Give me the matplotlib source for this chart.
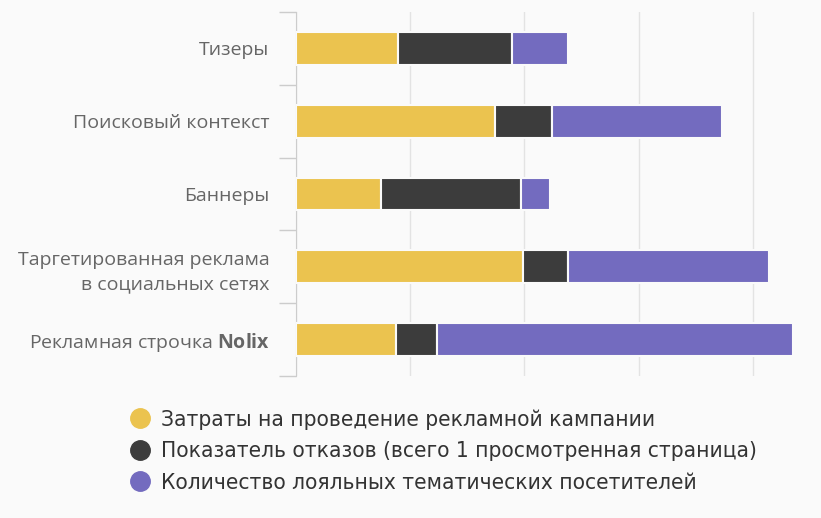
import numpy as np
import matplotlib.pyplot as plt
from matplotlib.lines import Line2D

categories = ["Тизеры", "Поисковый контекст", "Баннеры",
              "Таргетированная реклама\nв социальных сетях",
              "Рекламная строчка $\\bf{Nolix}$"]
series_names = ["Затраты на проведение рекламной кампании",
                "Показатель отказов (всего 1 просмотренная страница)",
                "Количество лояльных тематических посетителей"]
costs = [89, 174, 74, 199, 87.5]
bounces = [100, 50, 123, 39, 36]
loyal = [49, 149, 25, 176, 312]
colors = ["#ebc34f", "#3c3c3c", "#736bbf"]

plt.rcParams["mathtext.fontset"] = "custom"
plt.rcParams["mathtext.rm"] = "Open Sans"
plt.rcParams["mathtext.bf"] = "Open Sans:bold"

bg = "#fafafa"
fig = plt.figure(figsize=(8.21, 5.18), dpi=100, facecolor=bg)
ax = fig.add_axes([296 / 821, 142 / 518, 514 / 821, 364 / 518])
ax.set_facecolor(bg)

y = np.arange(len(categories))
left = np.zeros(len(categories))
for vals, c, name in zip([costs, bounces, loyal], colors, series_names):
    ax.barh(y, vals, left=left, height=0.45, color=c, edgecolor=bg,
            linewidth=1.5, label=name, zorder=3)
    left += np.array(vals)

ax.set_xlim(0, 450)
ax.set_ylim(4.5, -0.5)
ax.set_xticks([0, 100, 200, 300, 400])
ax.tick_params(axis="x", length=0, labelbottom=False)
ax.grid(axis="x", color="#e3e3e3", linewidth=1, zorder=0)

ax.set_yticks(y)
ax.set_yticklabels(categories, fontsize=14, color="#666666", family="Open Sans",
                   linespacing=1.45)
ax.set_yticks(np.arange(-0.5, 5, 1), minor=True)
ax.tick_params(axis="y", which="major", length=0, pad=19)
ax.tick_params(axis="y", which="minor", length=12.5, color="#cccccc", width=1)

for s in ["top", "right", "bottom"]:
    ax.spines[s].set_visible(False)
ax.spines["left"].set_color("#cccccc")

handles = [Line2D([], [], marker="o", linestyle="", markersize=14,
                  markerfacecolor=c, markeredgecolor=c) for c in colors]
fig.legend(handles, series_names, loc="upper left",
           bbox_to_anchor=(107 / 821, 1 - 389 / 518), frameon=False,
           prop={"family": "DejaVu Sans", "stretch": "condensed", "size": 16.2},
           labelcolor="#333333", handletextpad=0.4, labelspacing=0.52,
           handlelength=1.1)

fig.savefig("out.png", dpi=100, facecolor=bg)
